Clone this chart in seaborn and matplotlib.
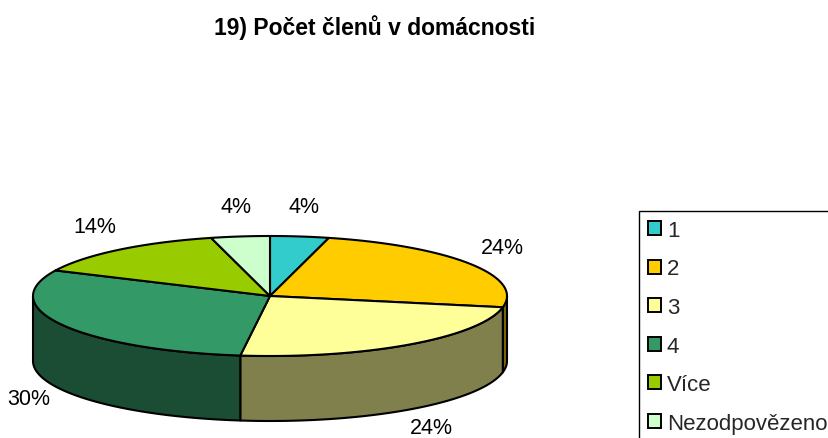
import numpy as np
import matplotlib
matplotlib.use('Agg')
import matplotlib.pyplot as plt
from matplotlib.patches import Polygon, Patch
from matplotlib.colors import to_rgb
import seaborn as sns

# Data
kategorie = ['1', '2', '3', '4', 'Více', 'Nezodpovězeno']
podily = [4, 24, 24, 30, 14, 4]
barvy = ['#33CCCC', '#FFCC00', '#FFFF99', '#339966', '#99CC00', '#CCFFCC']
popisky = ['4%', '24%', '24%', '30%', '14%', '4%']
nadpis = '19) Počet členů v domácnosti'

sns.set_style('white')
plt.rcParams['font.family'] = ['Liberation Sans', 'DejaVu Sans']

# 3D pie geometry (pixel units)
cx, cy = 270, 297
a, b = 237, 60
hloubka = 65


def bod(t, dy=0):
    r = np.radians(t)
    return cx + a * np.sin(r), cy - b * np.cos(r) + dy


fig = plt.figure(figsize=(8.29, 4.39), dpi=100)
ax = fig.add_axes([0, 0, 1, 1])
ax.set_xlim(0, 829)
ax.set_ylim(439, 0)
ax.axis('off')

uhly = np.concatenate([[0], np.cumsum(podily)]) / sum(podily) * 360

# ── Side walls ──
for i, barva in enumerate(barvy):
    s, e = max(uhly[i], 90), min(uhly[i + 1], 270)
    if s >= e:
        continue
    ts = np.linspace(s, e, 80)
    horni = [bod(t) for t in ts]
    dolni = [bod(t, hloubka) for t in ts[::-1]]
    tmava = tuple(np.array(to_rgb(barva)) * 0.5)
    ax.add_patch(Polygon(horni + dolni, closed=True, facecolor=tmava,
                         edgecolor='black', linewidth=1.5, joinstyle='round'))

# ── Top faces ──
for i, barva in enumerate(barvy):
    ts = np.linspace(uhly[i], uhly[i + 1], 100)
    body = [(cx, cy)] + [bod(t) for t in ts]
    ax.add_patch(Polygon(body, closed=True, facecolor=barva,
                         edgecolor='black', linewidth=1.5, joinstyle='round'))

# ── Percentage labels ──
for i, txt in enumerate(popisky):
    stred = np.radians((uhly[i] + uhly[i + 1]) / 2)
    lx = cx + 1.16 * a * np.sin(stred)
    ly = cy - 1.5 * b * np.cos(stred)
    if np.cos(stred) < 0:
        ly += hloubka - 6
    ax.text(lx, ly, txt, ha='center', va='center', fontsize=15.5, color='black')

# ── Title ──
fig.text(375 / 829, 1 - 28 / 439, nadpis, ha='center', va='center',
         fontsize=16.5, fontweight='bold', color='black')

# ── Legend ──
handles = [Patch(facecolor=c, edgecolor='black', linewidth=1.4) for c in barvy]
leg = fig.legend(handles, kategorie, loc='upper left',
                 bbox_to_anchor=(639 / 829, 1 - 212 / 439),
                 bbox_transform=fig.transFigure, borderaxespad=0,
                 fontsize=16, frameon=True, fancybox=False, shadow=False,
                 handlelength=0.6, handleheight=0.6, handletextpad=0.25,
                 labelspacing=0.79, borderpad=0.4)
leg.get_frame().set_edgecolor('black')
leg.get_frame().set_linewidth(1.0)
leg.get_frame().set_alpha(1)

fig.savefig('out.png', dpi=100)
